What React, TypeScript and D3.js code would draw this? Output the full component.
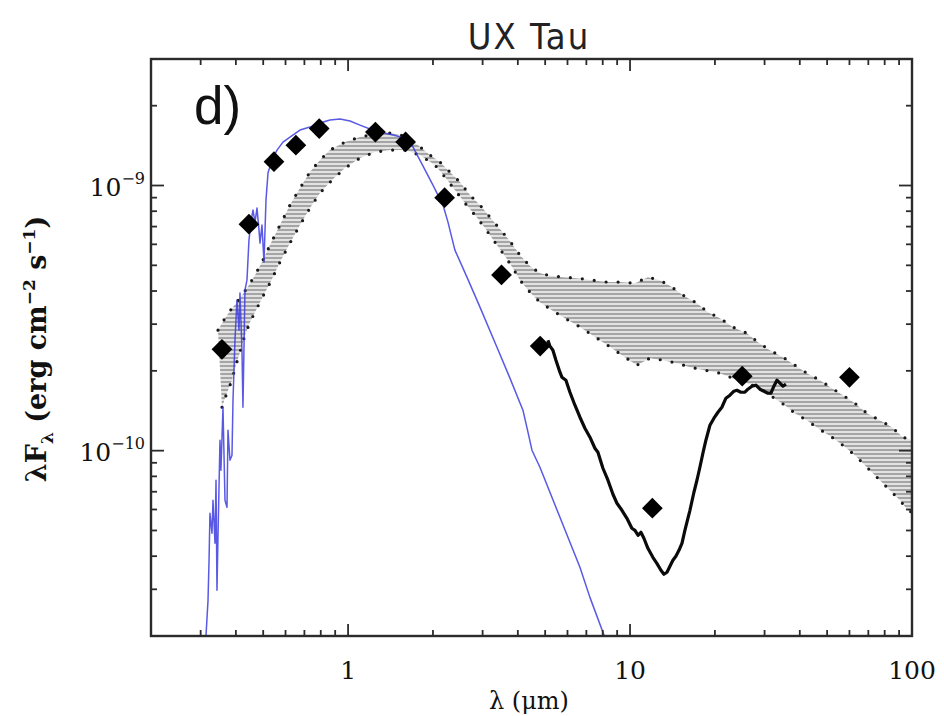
import React from "react";
import * as d3 from "d3";

const WIDTH = 944;
const HEIGHT = 716;
// All flux values below are in units of 1e-10 erg cm^-2 s^-1
const FLUX_UNIT = 1e-10;

const X_DOMAIN = [0.2, 100];
const Y_DOMAIN = [2e-11, 3e-9];

// Broad-band photometry (μm)
const photWave = [0.357, 0.445, 0.546, 0.653, 0.79, 1.25, 1.6, 2.2, 3.5, 4.8, 12, 25, 60];
const photFlux = [2.41, 7.15, 12.3, 14.2, 16.4, 15.9, 14.6, 9.0, 4.6, 2.48, 0.607, 1.91, 1.89];

// Stellar photosphere model
const starWave = [
  0.3133, 0.3186, 0.3213, 0.3237, 0.3291, 0.3318, 0.3373, 0.3401, 0.3428, 0.3456,
  0.3513, 0.3541, 0.36, 0.366, 0.372, 0.375, 0.3812, 0.3875, 0.3907, 0.3971,
  0.4036, 0.4103, 0.4136, 0.4204, 0.4238, 0.4308, 0.4379, 0.4451, 0.4524, 0.46,
  0.4676, 0.4753, 0.4831, 0.4871, 0.495, 0.5032, 0.5115, 0.5199, 0.5372, 0.5597,
  0.5875, 0.6222, 0.6751, 0.7324, 0.7948, 0.8627, 0.9359, 1.016, 1.102, 1.196,
  1.297, 1.443, 1.591, 1.685, 1.798, 2.0, 2.171, 2.261, 2.335, 2.393,
  2.64, 2.936, 3.373, 3.75, 4.17, 4.345, 4.489, 4.791, 5.641, 6.642,
  7.207, 8.213,
];
const starFlux = [
  0.1994, 0.2726, 0.3859, 0.5806, 0.488, 0.6502, 0.4473, 0.7735, 0.2973, 0.4713,
  1.095, 0.8437, 1.458, 0.6502, 0.6116, 1.194, 0.9203, 0.9612, 1.55, 2.611,
  3.695, 2.848, 3.928, 2.393, 1.458, 4.031, 4.397, 6.225, 7.278, 8.079,
  7.278, 8.219, 6.789, 6.066, 7.091, 5.142, 8.81, 11.14, 12.47, 13.6,
  14.58, 15.23, 16.19, 16.61, 17.2, 17.66, 17.81, 17.5, 16.9, 16.33,
  15.91, 15.5, 15.1, 14.21, 12.47, 10.04, 8.437, 7.278, 6.333, 5.708,
  4.513, 3.477, 2.456, 1.877, 1.421, 1.174, 1.004, 0.866, 0.5608, 0.3632,
  0.2797, 0.1926,
];

// IRS spectrum
const irsWave = [
  5.115, 5.199, 5.327, 5.46, 5.641, 5.733, 5.924, 6.121, 6.376, 6.642,
  6.918, 7.207, 7.507, 7.693, 8.014, 8.349, 8.697, 8.986, 9.359, 9.748,
  10.15, 10.41, 10.67, 10.93, 11.2, 11.57, 12.05, 12.45, 12.87, 13.19,
  13.52, 13.85, 14.19, 14.54, 14.91, 15.28, 15.65, 16.04, 16.31, 16.85,
  17.27, 17.69, 18.13, 18.58, 19.2, 19.84, 20.5, 21.17, 21.88, 22.61,
  23.36, 23.93, 24.73, 25.55, 26.18, 27.05, 27.95, 28.88, 29.85, 30.83,
  31.61, 32.37, 33.19, 34.01, 34.84, 35.72,
];
const irsFlux = [
  2.611, 2.478, 2.393, 2.194, 1.977, 1.893, 1.844, 1.661, 1.484, 1.337,
  1.215, 1.124, 1.021, 0.9865, 0.8584, 0.7735, 0.685, 0.6334, 0.5959, 0.5559,
  0.5097, 0.5008, 0.4796, 0.4923, 0.4673, 0.4283, 0.3962, 0.3759, 0.3539, 0.3418,
  0.3478, 0.3664, 0.3859, 0.3996, 0.421, 0.4473, 0.5008, 0.5559, 0.5959, 0.6969,
  0.7735, 0.866, 0.9779, 1.095, 1.247, 1.326, 1.396, 1.458, 1.577, 1.619,
  1.676, 1.69, 1.661, 1.661, 1.705, 1.75, 1.766, 1.705, 1.676, 1.647,
  1.647, 1.75, 1.844, 1.797, 1.75, 1.781,
];

// Comparison range: upper and lower envelopes
const bandUpperWave = [
  0.3456, 0.366, 0.3875, 0.4136, 0.4379, 0.4676, 0.495, 0.5284, 0.5735, 0.6222,
  0.6751, 0.7324, 0.7948, 0.8627, 0.9747, 1.102, 1.245, 1.408, 1.591, 1.769,
  1.952, 2.118, 2.297, 2.493, 2.705, 2.936, 3.185, 3.457, 3.75, 4.069,
  4.416, 4.791, 5.115, 5.781, 6.481, 7.326, 8.279, 9.206, 10.41, 11.57,
  12.76, 14.08, 15.4, 17.27, 18.89, 20.84, 23.16, 25.97, 28.41, 31.33,
  34.84, 38.43, 42.39, 47.14, 51.99, 56.88, 62.73, 69.18, 76.92, 84.86,
  92.83, 100,
];
const bandUpperFlux = [
  2.848, 3.16, 3.447, 3.76, 4.102, 4.592, 5.142, 5.962, 7.091, 8.437,
  9.779, 11.24, 12.47, 13.6, 14.58, 15.23, 15.64, 15.78, 15.37, 14.21,
  13.02, 12.26, 11.24, 10.3, 9.203, 8.437, 7.602, 6.849, 6.171, 5.465,
  4.966, 4.673, 4.592, 4.513, 4.474, 4.397, 4.322, 4.322, 4.284, 4.513,
  4.397, 4.138, 3.86, 3.6, 3.33, 3.16, 2.923, 2.774, 2.566, 2.393,
  2.252, 2.101, 1.96, 1.844, 1.72, 1.619, 1.51, 1.384, 1.302, 1.226,
  1.124, 1.095,
];
const bandLowerWave = [
  0.3571, 0.366, 0.375, 0.3875, 0.3971, 0.4136, 0.4308, 0.4488, 0.4714, 0.495,
  0.5284, 0.5735, 0.6222, 0.6751, 0.7324, 0.7948, 0.8767, 0.9747, 1.102, 1.245,
  1.408, 1.591, 1.798, 2.033, 2.206, 2.393, 2.597, 2.818, 3.058, 3.318,
  3.601, 3.844, 4.069, 4.416, 4.791, 5.284, 5.876, 6.481, 7.09, 7.82,
  8.627, 9.592, 10.58, 11.76, 13.08, 14.66, 16.31, 18.43, 20.84, 23.16,
  25.97, 28.88, 32.11, 35.41, 38.43, 42.39, 46.38, 51.99, 56.88, 62.73,
  69.18, 75.68, 83.49, 90.57, 96.69, 100,
];
const bandLowerFlux = [
  1.458, 1.577, 1.69, 1.844, 2.047, 2.352, 2.727, 3.052, 3.388, 3.76,
  4.284, 5.142, 6.066, 7.091, 8.219, 9.363, 10.48, 11.63, 12.69, 13.37,
  13.6, 13.6, 13.02, 11.94, 10.76, 9.612, 8.585, 7.735, 6.909, 6.116,
  5.417, 4.88, 4.397, 3.962, 3.631, 3.388, 3.16, 2.974, 2.799, 2.611,
  2.435, 2.252, 2.101, 2.233, 2.194, 2.138, 2.065, 2.012, 1.96, 1.877,
  1.797, 1.72, 1.591, 1.484, 1.384, 1.302, 1.215, 1.124, 1.048, 0.9612,
  0.866, 0.787, 0.7091, 0.6502, 0.5959, 0.5857,
];

const X_TICK_LABELS = ["1", "10", "100"];
const Y_TICK_EXPONENTS = ["−10", "−9"];

type Pt = [number, number];
const zip = (w: number[], f: number[]): Pt[] => w.map((v, i) => [v, f[i] * FLUX_UNIT]);

const isDecade = (v: number) => Math.abs(Math.log10(v) - Math.round(Math.log10(v))) < 1e-6;

export default function App() {
  const left = 151, right = 912, top = 59, bottom = 636;
  const x = d3.scaleLog().domain(X_DOMAIN).range([left, right]);
  const y = d3.scaleLog().domain(Y_DOMAIN).range([bottom, top]);

  const line = d3
    .line<Pt>()
    .x((d) => x(d[0]))
    .y((d) => y(d[1]));

  const upper = zip(bandUpperWave, bandUpperFlux);
  const lower = zip(bandLowerWave, bandLowerFlux);
  const bandPath = line([...upper, ...lower.slice().reverse()]) + "Z";
  const star = zip(starWave, starFlux);
  const irs = zip(irsWave, irsFlux);
  const phot = zip(photWave, photFlux);

  const diamond = d3.symbol().type(d3.symbolSquare).size(215)() as string;

  const xTicks = x.ticks();
  const yTicks = y.ticks();
  const xMajor = xTicks.filter(isDecade);
  const yMajor = yTicks.filter(isDecade);

  const axisColor = "#2b2b2b";
  const serif = "'DejaVu Serif', 'Liberation Serif', serif";

  return (
    <svg
      width={WIDTH}
      height={HEIGHT}
      viewBox={`0 0 ${WIDTH} ${HEIGHT}`}
      style={{ position: "absolute", left: 0, top: 0, background: "#fff" }}
    >
      <defs>
        <clipPath id="plotArea">
          <rect x={left} y={top} width={right - left} height={bottom - top} />
        </clipPath>
        <pattern id="hatch" patternUnits="userSpaceOnUse" width={10} height={4}>
          <rect width={10} height={4} fill="#e2e2e2" />
          <line x1={0} x2={10} y1={2} y2={2} stroke="#848484" strokeWidth={1.3} />
        </pattern>
      </defs>

      <rect x={0} y={0} width={WIDTH} height={HEIGHT} fill="#fff" />

      <g clipPath="url(#plotArea)">
        {/* comparison range */}
        <path d={bandPath} fill="url(#hatch)" stroke="none" />
        {[upper, lower].map((edge, i) => (
          <path
            key={i}
            d={line(edge) as string}
            fill="none"
            stroke="#1a1a1a"
            strokeWidth={3.2}
            strokeLinecap="round"
            strokeDasharray="0 12"
          />
        ))}
        {/* photosphere */}
        <path
          d={line(star) as string}
          fill="none"
          stroke="#3c3ce0"
          strokeOpacity={0.85}
          strokeWidth={1.5}
          strokeLinejoin="round"
        />
        {/* IRS spectrum */}
        <path
          d={line(irs) as string}
          fill="none"
          stroke="#0a0a0a"
          strokeWidth={3.2}
          strokeLinejoin="round"
        />
      </g>

      {/* photometry */}
      {phot.map((d, i) => (
        <path
          key={i}
          d={diamond}
          transform={`translate(${x(d[0])},${y(d[1])}) rotate(45)`}
          fill="#000"
        />
      ))}

      {/* frame and ticks */}
      <rect
        x={left}
        y={top}
        width={right - left}
        height={bottom - top}
        fill="none"
        stroke={axisColor}
        strokeWidth={2.4}
      />
      {xTicks.map((t, i) => {
        const len = isDecade(t) ? 12 : 6;
        const px = x(t);
        return (
          <g key={"xt" + i} stroke={axisColor} strokeWidth={1.8}>
            <line x1={px} x2={px} y1={bottom} y2={bottom - len} />
            <line x1={px} x2={px} y1={top} y2={top + len} />
          </g>
        );
      })}
      {yTicks.map((t, i) => {
        const len = isDecade(t) ? 13 : 6;
        const py = y(t);
        return (
          <g key={"yt" + i} stroke={axisColor} strokeWidth={1.8}>
            <line x1={left} x2={left + len} y1={py} y2={py} />
            <line x1={right} x2={right - len} y1={py} y2={py} />
          </g>
        );
      })}

      {/* tick labels */}
      {xMajor.map((t, i) => (
        <text
          key={"xl" + i}
          x={x(t)}
          y={679}
          textAnchor="middle"
          fontFamily={serif}
          fontSize={25}
          fill="#111"
        >
          {X_TICK_LABELS[i]}
        </text>
      ))}
      {yMajor.map((t, i) => (
        <text
          key={"yl" + i}
          x={145}
          y={y(t) + 10}
          textAnchor="end"
          fontFamily={serif}
          fontSize={25}
          fill="#111"
        >
          10
          <tspan fontSize={16} dy={-12}>
            {Y_TICK_EXPONENTS[i]}
          </tspan>
        </text>
      ))}

      {/* axis titles */}
      <text
        x={529}
        y={709}
        textAnchor="middle"
        fontFamily={serif}
        fontSize={24}
        fill="#111"
      >
        λ (μm)
      </text>
      <text
        transform="translate(46,349) rotate(-90)"
        textAnchor="middle"
        fontFamily={serif}
        fontWeight="bold"
        fontSize={27}
        fill="#111"
      >
        λF
        <tspan fontSize={17} dy={7}>
          λ
        </tspan>
        <tspan dy={-7}>{" (erg cm"}</tspan>
        <tspan fontSize={17} dy={-11}>
          −2
        </tspan>
        <tspan dy={11}>{" s"}</tspan>
        <tspan fontSize={17} dy={-11}>
          −1
        </tspan>
        <tspan dy={11}>)</tspan>
      </text>

      {/* title and panel tag */}
      <text
        x={529}
        y={49}
        textAnchor="middle"
        fontFamily="'DejaVu Sans Condensed', 'DejaVu Sans', sans-serif"
        fontStretch="condensed"
        fontSize={36}
        letterSpacing={2}
        fill="#222"
      >
        UX Tau
      </text>
      <text
        x={194}
        y={124}
        fontFamily="'Liberation Sans', Arial, sans-serif"
        fontSize={53}
        fill="#111"
      >
        d)
      </text>
    </svg>
  );
}
